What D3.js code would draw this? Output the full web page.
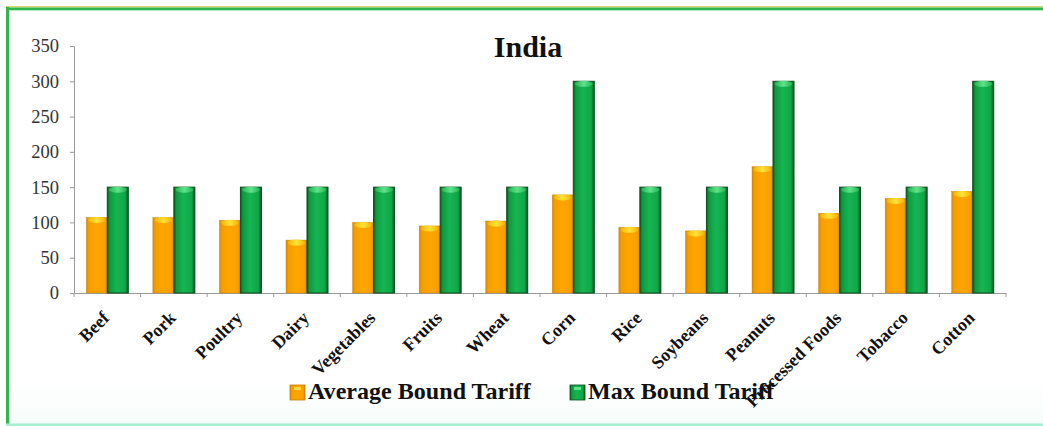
<!DOCTYPE html>
<html>
<head>
<meta charset="utf-8">
<script src="https://cdn.jsdelivr.net/npm/d3@7"></script>
<style>
  html, body { margin: 0; padding: 0; background: #ffffff; }
  svg { display: block; }
  text { font-family: "Liberation Serif", "Times New Roman", serif; }
</style>
</head>
<body>
<svg id="chart" width="1043" height="426"></svg>
<script>
const categories = ["Beef", "Pork", "Poultry", "Dairy", "Vegetables", "Fruits", "Wheat", "Corn", "Rice", "Soybeans", "Peanuts", "Processed Foods", "Tobacco", "Cotton"];
const averageBound = [107, 107, 103, 75, 100, 95, 102, 139, 93, 88, 179, 113, 134, 144];
const maxBound = [150, 150, 150, 150, 150, 150, 150, 300, 150, 150, 300, 150, 150, 300];
const seriesNames = ["Average Bound Tariff", "Max Bound Tariff"];
const yTicks = [0, 50, 100, 150, 200, 250, 300, 350];
const chartTitle = "India";

const FONT = "'Liberation Serif', 'Times New Roman', serif";
const svg = d3.select("#chart");
const W = 1043, H = 426;
const mLeft = 74, mRight = 1006, mTop = 46, mBottom = 293;

// frame
const defs = svg.append("defs");
const bgGrad = defs.append("linearGradient").attr("id", "bg").attr("x1", 0).attr("y1", 0).attr("x2", 0).attr("y2", 1);
bgGrad.append("stop").attr("offset", "0%").attr("stop-color", "#ffffff");
bgGrad.append("stop").attr("offset", "88%").attr("stop-color", "#ffffff");
bgGrad.append("stop").attr("offset", "100%").attr("stop-color", "#f6fdfa");
svg.append("rect").attr("x", 8).attr("y", 9).attr("width", W - 8).attr("height", H - 9).attr("fill", "url(#bg)");
svg.append("rect").attr("x", 6).attr("y", 6).attr("width", W - 6).attr("height", 1.5).attr("fill", "#d9d676");
svg.append("rect").attr("x", 6).attr("y", 7.5).attr("width", W - 6).attr("height", 2.5).attr("fill", "#2fb64c");
svg.append("rect").attr("x", 6).attr("y", 10).attr("width", W - 6).attr("height", 1).attr("fill", "#b9ecc4");
svg.append("rect").attr("x", 6).attr("y", 7).attr("width", 3).attr("height", H - 7).attr("fill", "#2fb64c");
svg.append("rect").attr("x", 9).attr("y", 10).attr("width", 1).attr("height", H - 10).attr("fill", "#b9ecc4");
svg.append("rect").attr("x", 6).attr("y", 423.5).attr("width", W - 6).attr("height", 2.5).attr("fill", "#a6f0d2");

// gradients for bars
function hGrad(id, stops) {
  const g = defs.append("linearGradient").attr("id", id).attr("x1", 0).attr("y1", 0).attr("x2", 1).attr("y2", 0);
  stops.forEach(s => g.append("stop").attr("offset", s[0]).attr("stop-color", s[1]));
}
hGrad("gOrange", [["0%", "#d98a00"], ["12%", "#f59e00"], ["50%", "#ffa600"], ["88%", "#f9a000"], ["100%", "#d48500"]]);
hGrad("gGreen", [["0%", "#0b5a22"], ["12%", "#0f9a40"], ["45%", "#15b552"], ["85%", "#10a648"], ["100%", "#0a4f1e"]]);
hGrad("gOrangeCap", [["0%", "#f3b400"], ["50%", "#ffe23a"], ["100%", "#f3b400"]]);
hGrad("gGreenCap", [["0%", "#23b352"], ["50%", "#5fe38a"], ["100%", "#23b352"]]);

const x0 = d3.scaleBand().domain(categories).range([mLeft, mRight]).paddingInner(0).paddingOuter(0);
const x1 = d3.scaleBand().domain(seriesNames).range([x0.bandwidth() / 2 - 21, x0.bandwidth() / 2 + 21]).padding(0);
const y = d3.scaleLinear().domain([0, 350]).range([mBottom, mTop]);

// title
svg.append("text").attr("transform", "translate(528,57) scale(1.0,1)").attr("text-anchor", "middle")
  .attr("font-family", FONT).style("font-weight", "bold")
  .style("font-size", "30px").attr("fill", "#111").text(chartTitle);

// y axis
const yAxis = d3.axisLeft(y).tickValues(yTicks).tickSize(4).tickPadding(11).tickFormat(d3.format("d"));
const gy = svg.append("g").attr("transform", `translate(${mLeft},0)`).call(yAxis).attr("font-family", FONT);
gy.select(".domain").attr("stroke", "#9a9a9a");
gy.selectAll(".tick line").attr("stroke", "#9a9a9a");
gy.selectAll(".tick text").attr("font-family", FONT)
  .style("font-size", "18.5px").attr("fill", "#333");

// x axis
const xAxis = d3.axisBottom(x0).tickSize(0).tickFormat("");
const gx = svg.append("g").attr("transform", `translate(0,${mBottom})`).call(xAxis);
gx.select(".domain").attr("stroke", "#9a9a9a");
const boundaries = categories.map(c => x0(c)).concat([mRight]);
gx.selectAll(".bound").data(boundaries).enter().append("line").attr("class", "bound")
  .attr("x1", d => d).attr("x2", d => d).attr("y1", 0).attr("y2", 4).attr("stroke", "#9a9a9a");

// bars
const data = categories.map((c, i) => ({ cat: c, vals: [averageBound[i], maxBound[i]] }));
const groups = svg.append("g").selectAll("g").data(data).enter().append("g")
  .attr("transform", d => `translate(${x0(d.cat)},0)`);
const fills = ["url(#gOrange)", "url(#gGreen)"];
const caps = ["url(#gOrangeCap)", "url(#gGreenCap)"];
const strokes = ["#c98000", "#0b4d1c"];
groups.each(function(d) {
  const g = d3.select(this);
  d.vals.forEach((v, si) => {
    const bx = x1(seriesNames[si]);
    const bw = x1.bandwidth();
    g.append("rect").attr("x", bx).attr("y", y(v)).attr("width", bw).attr("height", y(0) - y(v))
      .attr("fill", fills[si]).attr("stroke", strokes[si]).attr("stroke-width", si === 1 ? 1 : 0.4);
    g.append("ellipse").attr("cx", bx + bw / 2).attr("cy", y(v) + 2.5).attr("rx", bw / 2 - 1.5).attr("ry", 3)
      .attr("fill", caps[si]);
  });
});

// x labels
svg.append("g").selectAll("text").data(categories).enter().append("text")
  .attr("transform", d => `translate(${x0(d) + x0.bandwidth() / 2 + 3},319) rotate(-45)`)
  .attr("text-anchor", "end")
  .attr("font-family", FONT).style("font-weight", "bold")
  .style("font-size", "18px").attr("fill", "#111").text(d => d);

// legend
const legend = [
  { name: seriesNames[0], x: 290, fill: "url(#gOrange)", cap: "#ffd83a", stroke: "#c98000" },
  { name: seriesNames[1], x: 570, fill: "url(#gGreen)", cap: "#5fe38a", stroke: "#0b4d1c" }
];
const lg = svg.append("g").selectAll("g").data(legend).enter().append("g")
  .attr("transform", d => `translate(${d.x},385)`);
lg.append("rect").attr("width", 15).attr("height", 15).attr("fill", d => d.fill).attr("stroke", d => d.stroke).attr("stroke-width", 0.8);
lg.append("rect").attr("x", 4).attr("y", 2).attr("width", 7).attr("height", 3).attr("fill", d => d.cap);
lg.append("text").attr("transform", "translate(18,14) scale(1.07,1)")
  .attr("font-family", FONT).style("font-weight", "bold")
  .style("font-size", "22.5px").attr("fill", "#111").text(d => d.name);
</script>
</body>
</html>
